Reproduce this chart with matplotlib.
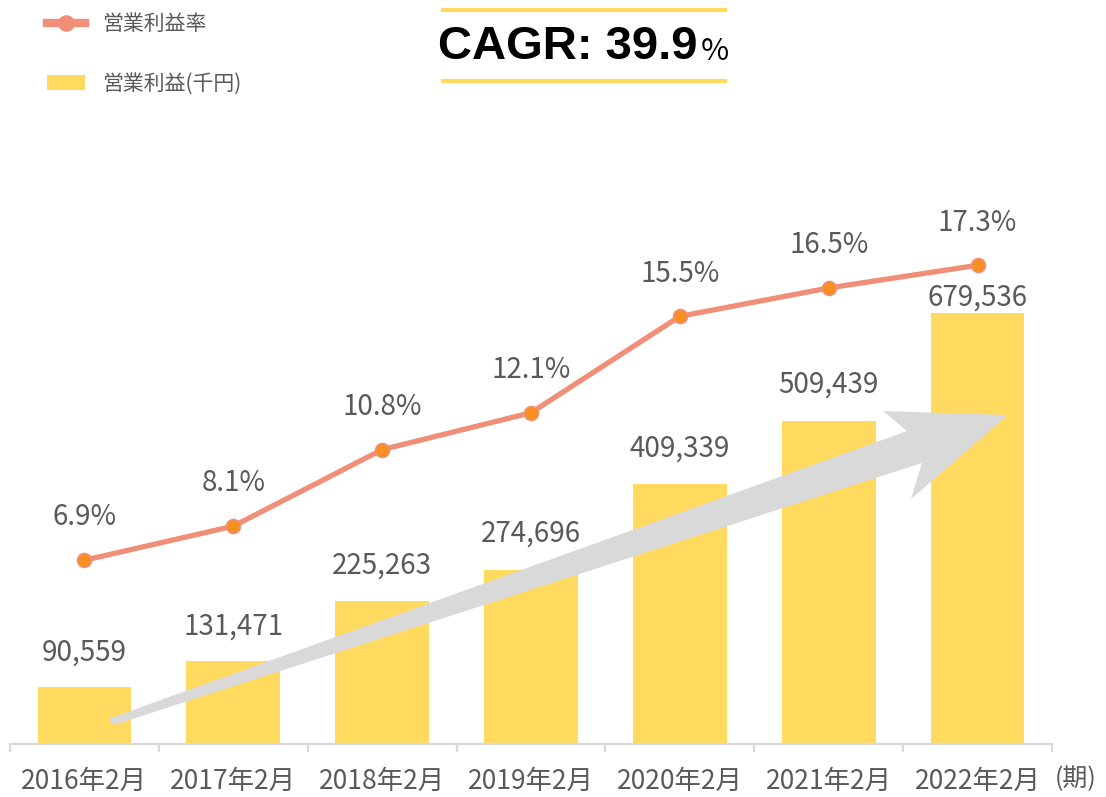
import matplotlib

matplotlib.use("Agg")
import matplotlib.pyplot as plt
from matplotlib.lines import Line2D
from matplotlib.patches import Patch, Polygon

plt.rcParams["font.family"] = ["Noto Sans CJK JP", "DejaVu Sans"]

periods = ["2016年2月", "2017年2月", "2018年2月", "2019年2月",
           "2020年2月", "2021年2月", "2022年2月"]
profit = [90559, 131471, 225263, 274696, 409339, 509439, 679536]  # 千円
margin = [6.9, 8.1, 10.8, 12.1, 15.5, 16.5, 17.3]  # %

BAR_C = "#FFDA5E"
LINE_C = "#F08E78"
MARK_C = "#F7901E"
TEXT_C = "#595959"
GRID_C = "#D9D9D9"

fig = plt.figure(figsize=(11.06, 7.97), dpi=100)
ax = fig.add_axes([10 / 1106, 53 / 797, 1042 / 1106, 614 / 797])
x = list(range(len(periods)))

ax.bar(x, profit, width=0.63, color=BAR_C, zorder=2)
ax.set_xlim(-0.5, len(periods) - 0.5)
ax.set_ylim(0, 968000)

# bar value labels (last one sits closer to the bar in the original)
bar_off = [14, 14, 15, 15, 15, 15, 0]
for xi, v, off in zip(x, profit, bar_off):
    ax.annotate(f"{v:,}", (xi, v), xytext=(0, off), textcoords="offset points",
                ha="center", va="bottom", fontsize=20, color=TEXT_C, zorder=5)

for s in ["top", "right", "left"]:
    ax.spines[s].set_visible(False)
ax.spines["bottom"].set_color(GRID_C)
ax.spines["bottom"].set_linewidth(1.6)
ax.set_yticks([])
ax.set_xticks(x)
ax.set_xticklabels(periods, fontsize=19, color=TEXT_C)
ax.tick_params(axis="x", which="major", length=0, pad=17)
ax.set_xticks([i - 0.5 for i in range(len(periods) + 1)], minor=True)
ax.tick_params(axis="x", which="minor", length=6, width=1.6, color=GRID_C)

# grey growth arrow (axes-fraction coords)
def px(p):
    return ((p[0] - 10) / 1042, (744 - p[1]) / 614)

arrow_pts = [(108, 719), (907, 431), (883, 411), (1008, 415),
             (911, 499), (922, 463), (114, 725)]
ax.add_patch(Polygon([px(p) for p in arrow_pts], closed=True,
                     transform=ax.transAxes, facecolor="#D9D9D9",
                     edgecolor="none", zorder=3))

ax2 = ax.twinx()
ax2.plot(x, margin, color=LINE_C, lw=3.8, marker="o", markersize=10,
         markerfacecolor=MARK_C, markeredgecolor=LINE_C, markeredgewidth=1.2,
         zorder=4)
ax2.set_ylim(0.42, 22.07)
ax2.set_yticks([])
for s in ax2.spines.values():
    s.set_visible(False)
for xi, m in zip(x, margin):
    ax2.annotate(f"{m}%", (xi, m), xytext=(0, 20), textcoords="offset points",
                 ha="center", va="bottom", fontsize=20, color=TEXT_C)

fig.text(1076 / 1106, 1 - 779 / 797, "(期)", ha="center", va="center",
         fontsize=18, color=TEXT_C)

# legend
handles = [Line2D([], [], color=LINE_C, lw=6, marker="o", markersize=11,
                  markerfacecolor=LINE_C, markeredgecolor=LINE_C),
           Patch(facecolor=BAR_C, edgecolor="none")]
fig.legend(handles, ["営業利益率", "営業利益(千円)"], loc="upper left",
           bbox_to_anchor=(47 / 1106, 1 - 13 / 797), frameon=False,
           fontsize=15, handlelength=1.8, handletextpad=0.85,
           labelspacing=1.8, borderpad=0, borderaxespad=0, labelcolor=TEXT_C)

# CAGR headline
fig.add_artist(Line2D([443 / 1106, 725 / 1106], [1 - 10 / 797] * 2,
                      color=BAR_C, lw=3, transform=fig.transFigure))
fig.add_artist(Line2D([443 / 1106, 725 / 1106], [1 - 81 / 797] * 2,
                      color=BAR_C, lw=3, transform=fig.transFigure))
fig.text(438 / 1106, 1 - 47 / 797, "CAGR: 39.9", ha="left", va="center",
         fontsize=34, fontweight="bold", family="Liberation Sans",
         color="black")
fig.text(701 / 1106, 1 - 51 / 797, "%", ha="left", va="center",
         fontsize=22, color="black")

fig.savefig("out.png", dpi=100)
